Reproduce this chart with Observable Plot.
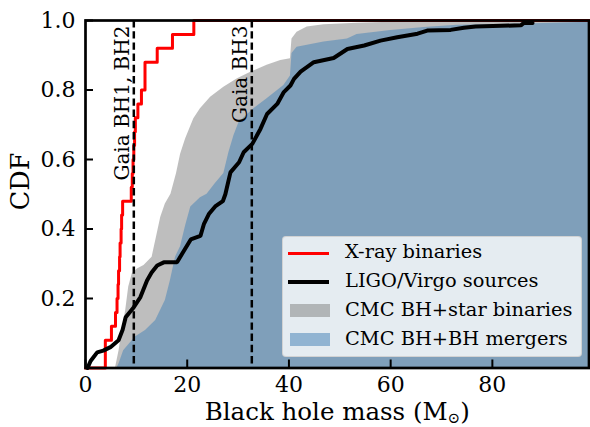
<!DOCTYPE html>
<html><head><meta charset="utf-8">
<script src="https://cdn.jsdelivr.net/npm/d3@7"></script>
<script src="https://cdn.jsdelivr.net/npm/@observablehq/plot@0.6"></script>
<style>
body{margin:0;background:#fff;}
#wrap{position:relative;width:590px;height:427px;font-family:"DejaVu Serif",serif;}
.legend{position:absolute;left:282px;top:236px;width:300px;height:121px;background:rgba(255,255,255,0.8);border:1px solid rgba(204,204,204,0.8);border-radius:4px;box-sizing:border-box;}
.row{position:absolute;left:0;height:20px;}
.sw{position:absolute;left:5px;width:41px;}
.lab{position:absolute;left:62px;top:-2px;font-size:19.4px;white-space:nowrap;line-height:22px;color:#000;}
</style></head>
<body><div id="wrap"></div>
<script>
// X-ray binaries: sorted black-hole masses (Msun)
const xrayMass = [3.9, 3.9, 5.1, 5.9, 6.2, 6.4, 6.5, 6.7, 6.8, 7.0, 7.1, 7.3, 9.0, 9.2, 9.35, 9.5, 9.65, 9.8, 10.3, 11.0, 11.7, 11.7, 14.1, 17.1, 21.3];
// LIGO/Virgo CDF
const ligoMass = [0.4, 1.0, 2.3, 3.5, 4.9, 6.5, 7.3, 7.9, 9.5, 10.8, 12.1, 13.0, 14.1, 15.4, 18.0, 19.0, 20.7, 22.6, 23.3, 24.3, 25.5, 27.0, 27.5, 28.5, 30.2, 31.1, 32.8, 34.4, 35.7, 37.7, 39.0, 40.3, 41.0, 42.3, 44.9, 48.8, 51.5, 54.8, 58.0, 61.3, 65.3, 67.2, 71.8, 74.4, 76.7, 85.6, 86.2, 87.9];
const ligoCdf  = [0.0, 0.02, 0.045, 0.05, 0.06, 0.08, 0.11, 0.146, 0.175, 0.204, 0.252, 0.275, 0.295, 0.304, 0.304, 0.329, 0.37, 0.38, 0.415, 0.444, 0.465, 0.48, 0.50, 0.563, 0.592, 0.621, 0.645, 0.688, 0.731, 0.760, 0.794, 0.813, 0.832, 0.853, 0.880, 0.892, 0.918, 0.928, 0.942, 0.952, 0.962, 0.971, 0.973, 0.979, 0.983, 0.986, 0.993, 0.993];
// CMC BH+star binaries CDF
const starMass = [5.9, 6.6, 7.2, 7.9, 8.5, 9.2, 10.2, 11.5, 13.1, 14.1, 14.8, 15.7, 16.8, 17.9, 18.7, 19.7, 21.3, 22.6, 24.6, 27.2, 29.8, 32.5, 35.7, 38.4, 40.3, 40.6, 41.6, 43.6, 46.9, 53.4, 60.0, 75.0, 99.0];
const starCdf  = [0.0, 0.05, 0.108, 0.165, 0.233, 0.271, 0.285, 0.295, 0.319, 0.386, 0.434, 0.472, 0.50, 0.56, 0.615, 0.66, 0.717, 0.746, 0.779, 0.808, 0.832, 0.851, 0.871, 0.885, 0.89, 0.947, 0.966, 0.981, 0.988, 0.992, 0.995, 1.0, 1.0];
// CMC BH+BH mergers CDF
const bbhMass = [6.2, 6.6, 7.5, 9.8, 11.8, 13.8, 15.7, 16.7, 17.7, 18.7, 19.7, 20.7, 22.6, 23.9, 25.5, 27.2, 28.2, 29.2, 30.2, 33.1, 35.7, 39.0, 40.3, 40.6, 41.6, 46.9, 51.5, 53.4, 60.0, 66.6, 73.1, 79.7, 86.2, 99.0];
const bbhCdf  = [0.0, 0.012, 0.05, 0.089, 0.108, 0.137, 0.194, 0.252, 0.319, 0.35, 0.41, 0.463, 0.49, 0.50, 0.53, 0.56, 0.62, 0.669, 0.707, 0.746, 0.775, 0.813, 0.84, 0.905, 0.923, 0.938, 0.947, 0.96, 0.971, 0.98, 0.986, 0.988, 0.99, 0.995];
// Gaia black holes
const gaiaMass = [9.5, 32.7];
const gaiaLabel = ["Gaia BH1, BH2", "Gaia BH3"];
const xTicks = [0, 20, 40, 60, 80];
const yTicks = [0.2, 0.4, 0.6, 0.8, 1.0];
const xDomain = [0, 99];
const yDomain = [0, 1];

const xray = [{m: xDomain[0], c: 0}, ...xrayMass.map((m, i) => ({m, c: (i + 1) / xrayMass.length})), {m: xDomain[1], c: 1}];
const ligo = ligoMass.map((m, i) => ({m, c: ligoCdf[i]}));
const star = starMass.map((m, i) => ({m, c: starCdf[i]}));
const bbh = bbhMass.map((m, i) => ({m, c: bbhCdf[i]}));
const gaia = gaiaMass.map((m, i) => ({m, label: gaiaLabel[i]}));

const chart = Plot.plot({
  width: 590, height: 427,
  marginLeft: 85, marginRight: 1.5, marginTop: 20, marginBottom: 59.5,
  style: {fontFamily: "'DejaVu Serif', serif", fontSize: "22px", color: "black", background: "white", overflow: "visible"},
  x: {domain: xDomain},
  y: {domain: yDomain},
  marks: [
    Plot.areaY(star, {x: "m", y: "c", fill: "#7d7d7d", fillOpacity: 0.5}),
    Plot.areaY(bbh, {x: "m", y: "c", fill: "#4985b7", fillOpacity: 0.54}),
    Plot.line(xray, {x: "m", y: "c", curve: "step-after", stroke: "#ff0000", strokeWidth: 3}),
    Plot.line(ligo, {x: "m", y: "c", stroke: "black", strokeWidth: 4, strokeLinejoin: "miter"}),
    Plot.ruleX(gaia, {x: "m", stroke: "black", strokeWidth: 2.5, strokeDasharray: "7.4,3.8"}),
    Plot.text(gaia, {x: "m", frameAnchor: "top", dy: 5, text: "label", rotate: -90, textAnchor: "end", lineAnchor: "bottom", dx: -5, fontSize: 20, fill: "black"}),
    Plot.axisX({ticks: xTicks, tickSize: -8, tickPadding: 16, strokeWidth: 2, label: null, fontSize: 22}),
    Plot.axisY({ticks: yTicks, tickSize: -8, tickPadding: 18, strokeWidth: 2, label: null, tickFormat: d3.format(".1f"), fontSize: 22}),
    Plot.text(["Black hole mass (M⊙)"], {frameAnchor: "bottom", dy: 44, text: d => d, lineAnchor: "middle", fontSize: 24.5, fill: "black"}),
    Plot.text(["CDF"], {frameAnchor: "left", dx: -64.5, dy: 16, text: d => d, rotate: -90, lineAnchor: "middle", fontSize: 25.5, fill: "black"}),
    Plot.frame({stroke: "black", strokeWidth: 2.7})
  ]
});

chart.querySelectorAll("text").forEach(t => {
  if (t.textContent === "Black hole mass (M⊙)") {
    t.innerHTML = 'Black hole mass (M<tspan dy="3" font-size="15">⊙</tspan><tspan dy="-3">)</tspan>';
  }
});

const wrap = document.getElementById("wrap");
wrap.appendChild(chart);

const legendItems = [
  {label: "X-ray binaries", kind: "line", color: "#ff0000", w: 3},
  {label: "LIGO/Virgo sources", kind: "line", color: "#000000", w: 4},
  {label: "CMC BH+star binaries", kind: "patch", color: "rgba(125,125,125,0.5)"},
  {label: "CMC BH+BH mergers", kind: "patch", color: "rgba(73,133,183,0.54)"}
];
const lg = document.createElement("div");
lg.className = "legend";
legendItems.forEach((it, i) => {
  const r = document.createElement("div");
  r.className = "row";
  r.style.top = (6 + i * 28.9) + "px";
  const sw = document.createElement("div");
  sw.className = "sw";
  if (it.kind === "line") {
    sw.style.top = (10 - it.w / 2) + "px";
    sw.style.height = it.w + "px";
    sw.style.background = it.color;
  } else {
    sw.style.top = "3.5px";
    sw.style.height = "13px";
    sw.style.left = "7px";
    sw.style.width = "40px";
    sw.style.background = it.color;
  }
  const lb = document.createElement("div");
  lb.className = "lab";
  lb.textContent = it.label;
  r.appendChild(sw); r.appendChild(lb);
  lg.appendChild(r);
});
wrap.appendChild(lg);
</script>
</body></html>
